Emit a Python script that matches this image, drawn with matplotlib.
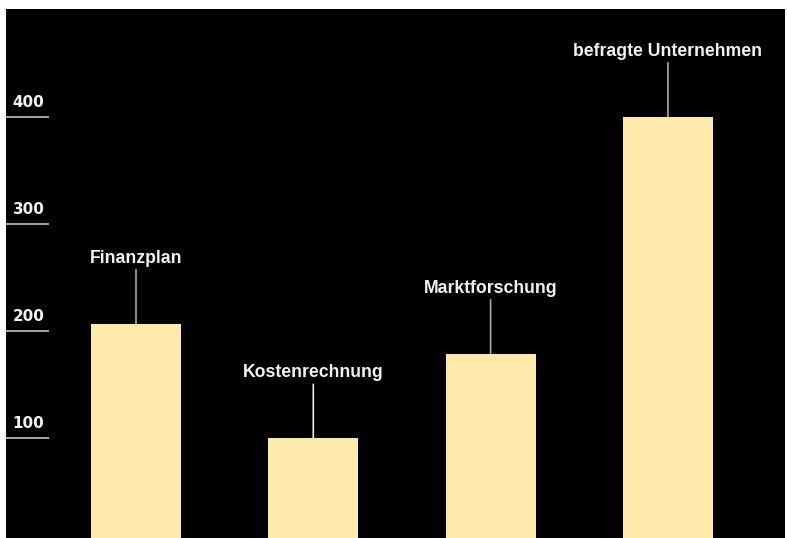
import matplotlib
matplotlib.use("Agg")
import matplotlib.pyplot as plt
import matplotlib.transforms as mtransforms

categories = ["Finanzplan", "Kostenrechnung", "Marktforschung", "befragte Unternehmen"]
values = [207, 100, 179, 400]
tick_values = [100, 200, 300, 400]
tick_labels = ["100", "200", "300", "400"]

W, H = 787, 538
fig = plt.figure(figsize=(W / 100, H / 100), dpi=100, facecolor="white")
# black plot panel
left, right, top = 6, 785, 9
ax = fig.add_axes([left / W, 0, (right - left) / W, (H - top) / H])
ax.set_facecolor("black")
for s in ax.spines.values():
    s.set_visible(False)
ax.set_xticks([])
ax.set_yticks([])

px_per_unit = 1.072
zero_px = 545.5
ax.set_ylim((zero_px - H) / px_per_unit, (zero_px - top) / px_per_unit)
spacing = 177.3
c0 = 136
ax.set_xlim((left - c0) / spacing, (right - c0) / spacing)

x = list(range(len(categories)))
ax.bar(x, values, width=90 / spacing, color="#FDE9A9", edgecolor="none", zorder=2)

bar_line_colors = ["#a8a8a8", "#e8e8e8", "#a8a8a8", "#a8a8a8"]
for xi, v, lab, lc in zip(x, values, categories, bar_line_colors):
    ax.annotate("", xy=(xi, v), xytext=(0, 54 * 0.72), textcoords="offset points",
                arrowprops=dict(arrowstyle="-", color=lc, lw=1.2, shrinkA=0, shrinkB=0))
    ax.annotate(lab, xy=(xi, v), xytext=(0, 61 * 0.72), textcoords="offset points",
                ha="center", va="baseline", color="#f2f2f2",
                fontsize=12.7, fontweight="bold", family="Liberation Sans")

# y tick marks and labels at the left
blend = mtransforms.blended_transform_factory(ax.transAxes, ax.transData)
tick_len = (48.7 - left) / (right - left)
for tv, tl in zip(tick_values, tick_labels):
    ax.plot([0, tick_len], [tv, tv], transform=blend, color="#b4b4b4", lw=1.3,
            solid_capstyle="butt", clip_on=False)
    tr = mtransforms.offset_copy(blend, fig=fig, x=0, y=10 * 0.72, units="points")
    ax.text((12.7 - left) / (right - left), tv, tl, transform=tr, ha="left",
            va="baseline", color="#f2f2f2", fontsize=10.9, fontweight="bold",
            family="DejaVu Sans")

fig.savefig("out.png", dpi=100, facecolor="white")
